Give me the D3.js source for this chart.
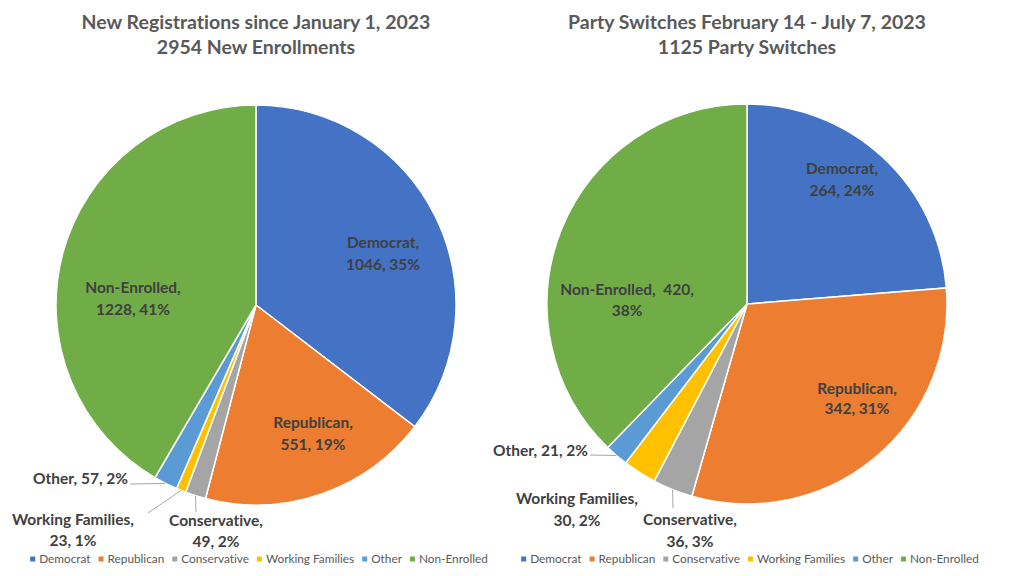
<!DOCTYPE html>
<html><head><meta charset="utf-8">
<script src="https://cdn.jsdelivr.net/npm/d3@7"></script>
<style>
body{margin:0;background:#fff;}
svg{display:block;font-family:Lato,"Liberation Sans",sans-serif;font-variant-ligatures:none;}
text{white-space:pre;}
</style></head>
<body>
<svg id="c" width="1024" height="576"></svg>
<script>
// ---- data ----
const categories = ["Democrat","Republican","Conservative","Working Families","Other","Non-Enrolled"];
const registrationValues = [1046, 551, 49, 23, 57, 1228];
const registrationPercents = ["35%","19%","2%","1%","2%","41%"];
const switchValues = [264, 342, 36, 30, 21, 420];
const switchPercents = ["24%","31%","3%","2%","2%","38%"];
const titlesLeft = ["New Registrations since January 1, 2023", "2954 New Enrollments"];
const titlesRight = ["Party Switches February 14 - July 7, 2023", "1125 Party Switches"];
const colors = ["#4472C4","#ED7D31","#A5A5A5","#FFC000","#5B9BD5","#70AD47"];

// ---- layout (label placement relative to pie center) ----
const layoutLeft = {
  cx:256, cy:305, r:200,
  labels:[
    {lines:d=>[d.cat+",", d.v+", "+d.p], dx:127, dy:-57, anchor:"middle"},
    {lines:d=>[d.cat+",", d.v+", "+d.p], dx:57, dy:123, anchor:"middle"},
    {lines:d=>[d.cat+",", d.v+", "+d.p], dx:-40, dy:221, anchor:"middle", gap:21, leader:[-60,207]},
    {lines:d=>[d.cat+",", d.v+", "+d.p], dx:-183, dy:220, anchor:"middle", gap:21, leader:[-108,208]},
    {lines:d=>[d.cat+", "+d.v+", "+d.p], dx:-128, dy:179, anchor:"end", leader:[-126,179]},
    {lines:d=>[d.cat+",", d.v+", "+d.p], dx:-123, dy:-12, anchor:"middle"}
  ]
};
const layoutRight = {
  cx:747, cy:304, r:200,
  labels:[
    {lines:d=>[d.cat+",", d.v+", "+d.p], dx:95, dy:-130, anchor:"middle"},
    {lines:d=>[d.cat+",", d.v+", "+d.p], dx:110, dy:90, anchor:"middle", gap:20},
    {lines:d=>[d.cat+",", d.v+", "+d.p], dx:-57, dy:221, anchor:"middle", leader:[-74,204]},
    {lines:d=>[d.cat+",", d.v+", "+d.p], dx:-170, dy:200, anchor:"middle"},
    {lines:d=>[d.cat+", "+d.v+", "+d.p], dx:-159, dy:152, anchor:"end", leader:[-157,151]},
    {lines:d=>[d.cat+",  "+d.v+",", d.p], dx:-120, dy:-9, anchor:"middle", gap:21}
  ]
};

const svg = d3.select("#c");
const color = d3.scaleOrdinal().domain(categories).range(colors);

function drawPie(values, percents, titles, L, legendCx){
  const g = svg.append("g");
  const data = categories.map((c,i)=>({cat:c, v:values[i], p:percents[i]}));
  const pie = d3.pie().value(d=>d.v).sort(null);
  const arcs = pie(data);
  const arc = d3.arc().innerRadius(0).outerRadius(L.r);
  const edge = d3.arc().innerRadius(L.r).outerRadius(L.r);

  titles.forEach((t,i)=>{
    g.append("text").attr("x",L.cx).attr("y",29+i*25).attr("text-anchor","middle")
      .attr("font-size",19.5).attr("font-weight","bold").attr("fill","#595959").text(t);
  });

  const pg = g.append("g").attr("transform",`translate(${L.cx},${L.cy})`);
  pg.selectAll("path").data(arcs).join("path")
    .attr("d",arc).attr("fill",d=>color(d.data.cat))
    .attr("stroke","#fff").attr("stroke-width",1.5);

  arcs.forEach((a,i)=>{
    const lab = L.labels[i];
    if(lab.leader){
      const e = edge.centroid(a);
      pg.append("polyline").attr("points",[lab.leader, e].map(p=>p.join(",")).join(" "))
        .attr("fill","none").attr("stroke","#a6a6a6").attr("stroke-width",1);
    }
    const lines = lab.lines(a.data);
    const t = pg.append("text").attr("text-anchor",lab.anchor)
      .attr("font-size",15.5).attr("font-weight","bold").attr("fill","#404040");
    lines.forEach((ln,k)=>{
      t.append("tspan").attr("x",lab.dx).attr("y",lab.dy+k*(lab.gap||22)).text(ln);
    });
  });

  const lg = g.append("g");
  let x = 0;
  categories.forEach((c,i)=>{
    const it = lg.append("g");
    it.append("rect").attr("x",x).attr("y",-2.5).attr("width",5).attr("height",5).attr("fill",colors[i]);
    const tx = it.append("text").attr("x",x+9).attr("y",4).attr("font-size",11.8).attr("fill","#595959").text(c);
    const w = tx.node().getComputedTextLength();
    x += 9 + w + 8;
  });
  const total = x - 8;
  lg.attr("transform",`translate(${legendCx - total/2},559)`);
}

drawPie(registrationValues, registrationPercents, titlesLeft, layoutLeft, 259);
drawPie(switchValues, switchPercents, titlesRight, layoutRight, 750);
</script>
</body></html>
